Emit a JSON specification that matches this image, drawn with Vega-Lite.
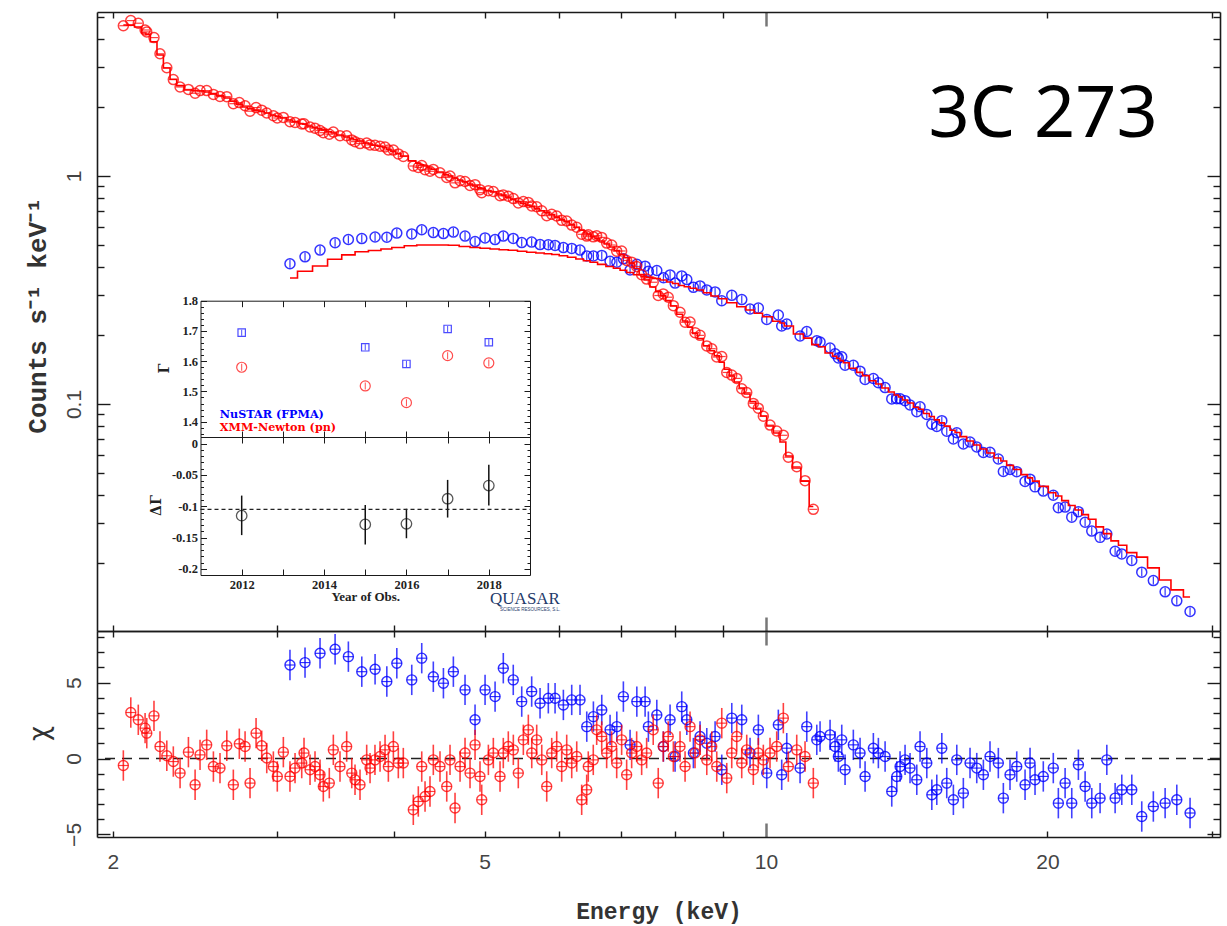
{
"$schema": "https://vega.github.io/schema/vega-lite/v6.json",
"width": 1123, "height": 825,
"autosize": "none",
"padding": {"left": 97, "top": 12, "right": 7, "bottom": 89},
"background": "white",
"config": {
  "view": {"stroke": null},
  "axis": {"grid": false, "domainColor": "#1a1a1a", "domainWidth": 1.6, "tickColor": "#1a1a1a", "tickWidth": 1.4, "labelFont": "Liberation Sans", "labelFontSize": 21, "labelColor": "#444", "titleColor": "#333", "labelOverlap": false, "labelFlush": false, "labelBound": false}
},
"datasets": {
"xmm": [
{"e":2.053,"r":4.562,"m":4.595,"c":-0.46},{"e":2.091,"r":4.804,"m":4.590,"c":3.03},{"e":2.130,"r":4.679,"m":4.503,"c":2.55},{"e":2.166,"r":4.369,"m":4.239,"c":2.0},{"e":2.175,"r":4.286,"m":4.179,"c":1.67},{"e":2.214,"r":4.046,"m":3.878,"c":2.81},{"e":2.247,"r":3.436,"m":3.394,"c":0.79},{"e":2.285,"r":2.985,"m":2.976,"c":0.18},{"e":2.322,"r":2.647,"m":2.655,"c":-0.2},{"e":2.361,"r":2.457,"m":2.492,"c":-0.96},
{"e":2.410,"r":2.398,"m":2.384,"c":0.42},{"e":2.450,"r":2.307,"m":2.369,"c":-1.73},{"e":2.480,"r":2.369,"m":2.359,"c":0.24},{"e":2.521,"r":2.369,"m":2.335,"c":0.9},{"e":2.563,"r":2.279,"m":2.298,"c":-0.53},{"e":2.605,"r":2.231,"m":2.252,"c":-0.63},{"e":2.649,"r":2.229,"m":2.200,"c":0.84},{"e":2.692,"r":2.076,"m":2.131,"c":-1.73},{"e":2.732,"r":2.099,"m":2.067,"c":0.97},{"e":2.771,"r":2.032,"m":2.007,"c":0.79},
{"e":2.805,"r":1.924,"m":1.971,"c":-1.62},{"e":2.847,"r":1.995,"m":1.946,"c":1.67},{"e":2.887,"r":1.944,"m":1.918,"c":0.84},{"e":2.923,"r":1.889,"m":1.889,"c":0.03},{"e":2.971,"r":1.837,"m":1.851,"c":-0.53},{"e":3.000,"r":1.797,"m":1.829,"c":-1.18},{"e":3.045,"r":1.807,"m":1.797,"c":0.42},{"e":3.095,"r":1.729,"m":1.761,"c":-1.18},{"e":3.134,"r":1.718,"m":1.734,"c":-0.63},{"e":3.186,"r":1.691,"m":1.699,"c":-0.3},
{"e":3.204,"r":1.696,"m":1.687,"c":0.36},{"e":3.252,"r":1.640,"m":1.658,"c":-0.74},{"e":3.292,"r":1.621,"m":1.633,"c":-0.53},{"e":3.333,"r":1.583,"m":1.609,"c":-1.07},{"e":3.360,"r":1.549,"m":1.593,"c":-1.84},{"e":3.410,"r":1.525,"m":1.563,"c":-1.62},{"e":3.444,"r":1.558,"m":1.544,"c":0.57},{"e":3.501,"r":1.501,"m":1.513,"c":-0.53},{"e":3.559,"r":1.501,"m":1.483,"c":0.79},{"e":3.604,"r":1.440,"m":1.460,"c":-0.96},
{"e":3.633,"r":1.415,"m":1.446,"c":-1.4},{"e":3.678,"r":1.387,"m":1.424,"c":-1.73},{"e":3.739,"r":1.394,"m":1.395,"c":-0.09},{"e":3.770,"r":1.369,"m":1.381,"c":-0.63},{"e":3.816,"r":1.363,"m":1.365,"c":-0.09},{"e":3.864,"r":1.352,"m":1.350,"c":0.13},{"e":3.912,"r":1.341,"m":1.330,"c":0.57},{"e":3.944,"r":1.300,"m":1.311,"c":-0.53},{"e":3.993,"r":1.299,"m":1.283,"c":0.79},{"e":4.042,"r":1.250,"m":1.256,"c":-0.3},
{"e":4.092,"r":1.218,"m":1.224,"c":-0.3},{"e":4.194,"r":1.106,"m":1.165,"c":-3.38},{"e":4.246,"r":1.091,"m":1.138,"c":-2.83},{"e":4.282,"r":1.112,"m":1.121,"c":-0.53},{"e":4.317,"r":1.065,"m":1.106,"c":-2.5},{"e":4.370,"r":1.049,"m":1.084,"c":-2.17},{"e":4.406,"r":1.069,"m":1.070,"c":-0.09},{"e":4.479,"r":1.033,"m":1.041,"c":-0.53},{"e":4.554,"r":0.985,"m":1.013,"c":-1.84},{"e":4.591,"r":0.999,"m":1.000,"c":-0.09},
{"e":4.648,"r":0.933,"m":0.980,"c":-3.26},{"e":4.706,"r":0.953,"m":0.960,"c":-0.53},{"e":4.764,"r":0.946,"m":0.941,"c":0.36},{"e":4.823,"r":0.909,"m":0.922,"c":-0.96},{"e":4.883,"r":0.916,"m":0.904,"c":0.9},{"e":4.943,"r":0.871,"m":0.887,"c":-1.18},{"e":4.964,"r":0.845,"m":0.881,"c":-2.72},{"e":5.046,"r":0.862,"m":0.863,"c":-0.09},{"e":5.108,"r":0.855,"m":0.851,"c":0.36},{"e":5.193,"r":0.819,"m":0.834,"c":-1.18},
{"e":5.235,"r":0.826,"m":0.822,"c":0.36},{"e":5.300,"r":0.816,"m":0.806,"c":0.79},{"e":5.366,"r":0.796,"m":0.789,"c":0.57},{"e":5.432,"r":0.762,"m":0.773,"c":-0.96},{"e":5.500,"r":0.772,"m":0.758,"c":1.23},{"e":5.568,"r":0.766,"m":0.745,"c":1.89},{"e":5.615,"r":0.739,"m":0.735,"c":0.36},{"e":5.684,"r":0.733,"m":0.719,"c":1.23},{"e":5.755,"r":0.704,"m":0.704,"c":-0.09},{"e":5.826,"r":0.670,"m":0.690,"c":-1.84},
{"e":5.898,"r":0.679,"m":0.676,"c":0.36},{"e":5.971,"r":0.668,"m":0.660,"c":0.79},{"e":6.045,"r":0.639,"m":0.645,"c":-0.53},{"e":6.120,"r":0.635,"m":0.630,"c":0.57},{"e":6.196,"r":0.609,"m":0.612,"c":-0.3},{"e":6.273,"r":0.596,"m":0.595,"c":0.13},{"e":6.350,"r":0.555,"m":0.578,"c":-2.72},{"e":6.429,"r":0.545,"m":0.562,"c":-2.06},{"e":6.454,"r":0.552,"m":0.557,"c":-0.53},{"e":6.534,"r":0.541,"m":0.542,"c":-0.09},
{"e":6.589,"r":0.547,"m":0.531,"c":1.89},{"e":6.671,"r":0.538,"m":0.519,"c":1.45},{"e":6.753,"r":0.508,"m":0.503,"c":0.36},{"e":6.837,"r":0.498,"m":0.488,"c":0.79},{"e":6.922,"r":0.468,"m":0.471,"c":-0.3},{"e":7.007,"r":0.469,"m":0.454,"c":1.23},{"e":7.094,"r":0.426,"m":0.438,"c":-1.07},{"e":7.182,"r":0.419,"m":0.415,"c":0.36},{"e":7.271,"r":0.401,"m":0.393,"c":0.79},{"e":7.361,"r":0.369,"m":0.370,"c":-0.09},
{"e":7.452,"r":0.353,"m":0.350,"c":0.36},{"e":7.574,"r":0.342,"m":0.326,"c":1.89},{"e":7.668,"r":0.299,"m":0.311,"c":-1.62},{"e":7.763,"r":0.304,"m":0.298,"c":0.79},{"e":7.859,"r":0.294,"m":0.284,"c":1.45},{"e":7.959,"r":0.270,"m":0.269,"c":0.13},{"e":8.091,"r":0.2525,"m":0.2474,"c":0.79},{"e":8.192,"r":0.2282,"m":0.2312,"c":-0.53},{"e":8.293,"r":0.2290,"m":0.2170,"c":2.1},{"e":8.396,"r":0.2056,"m":0.2038,"c":0.36},
{"e":8.500,"r":0.2000,"m":0.1938,"c":1.23},{"e":8.642,"r":0.1798,"m":0.1802,"c":-0.09},{"e":8.749,"r":0.1748,"m":0.1713,"c":0.79},{"e":8.857,"r":0.1607,"m":0.1628,"c":-0.53},{"e":8.967,"r":0.1615,"m":0.1524,"c":2.33},{"e":9.078,"r":0.1375,"m":0.1420,"c":-1.29},{"e":9.190,"r":0.1339,"m":0.1327,"c":0.36},{"e":9.304,"r":0.1295,"m":0.1249,"c":1.45},{"e":9.419,"r":0.1166,"m":0.1175,"c":-0.3},{"e":9.536,"r":0.1122,"m":0.1106,"c":0.57},
{"e":9.692,"r":0.1006,"m":0.1024,"c":-0.74},{"e":9.812,"r":0.0959,"m":0.0951,"c":0.36},{"e":9.934,"r":0.0884,"m":0.0886,"c":-0.09},{"e":10.099,"r":0.0808,"m":0.0801,"c":0.36},{"e":10.267,"r":0.0761,"m":0.0746,"c":0.79},{"e":10.436,"r":0.0729,"m":0.0681,"c":2.66},{"e":10.565,"r":0.0584,"m":0.0591,"c":-0.53},{"e":10.786,"r":0.0531,"m":0.0524,"c":0.57},{"e":11.009,"r":0.0461,"m":0.0459,"c":0.13},{"e":11.236,"r":0.0345,"m":0.0355,"c":-1.62}
],
"nus": [
{"e":3.095,"r":0.4120,"m":0.3569,"c":6.16},{"e":3.212,"r":0.4420,"m":0.3819,"c":6.32},{"e":3.333,"r":0.4732,"m":0.4030,"c":6.93},{"e":3.459,"r":0.5099,"m":0.4313,"c":7.2},{"e":3.574,"r":0.5266,"m":0.4508,"c":6.71},{"e":3.694,"r":0.5314,"m":0.4651,"c":5.72},{"e":3.817,"r":0.5401,"m":0.4713,"c":5.88},{"e":3.929,"r":0.5384,"m":0.4785,"c":5.07},{"e":4.027,"r":0.5618,"m":0.4858,"c":6.28},{"e":4.178,"r":0.5573,"m":0.4942,"c":5.18},
{"e":4.282,"r":0.5808,"m":0.4981,"c":6.61},{"e":4.406,"r":0.5646,"m":0.4981,"c":5.39},{"e":4.517,"r":0.5590,"m":0.4981,"c":4.96},{"e":4.629,"r":0.5675,"m":0.4966,"c":5.72},{"e":4.764,"r":0.5450,"m":0.4907,"c":4.52},{"e":4.883,"r":0.5156,"m":0.4858,"c":2.55},{"e":5.005,"r":0.5353,"m":0.4819,"c":4.52},{"e":5.130,"r":0.5260,"m":0.4785,"c":4.08},{"e":5.235,"r":0.5450,"m":0.4747,"c":5.95},{"e":5.365,"r":0.5324,"m":0.4722,"c":5.18},
{"e":5.478,"r":0.5104,"m":0.4680,"c":3.75},{"e":5.614,"r":0.5129,"m":0.4633,"c":4.41},{"e":5.731,"r":0.5001,"m":0.4595,"c":3.64},{"e":5.849,"r":0.4993,"m":0.4558,"c":3.97},{"e":5.947,"r":0.4961,"m":0.4526,"c":3.97},{"e":6.070,"r":0.4853,"m":0.4472,"c":3.53},{"e":6.196,"r":0.4814,"m":0.4400,"c":3.86},{"e":6.324,"r":0.4732,"m":0.4325,"c":3.86},{"e":6.430,"r":0.4463,"m":0.4251,"c":2.1},{"e":6.536,"r":0.4459,"m":0.4183,"c":2.76},
{"e":6.672,"r":0.4485,"m":0.4095,"c":3.2},{"e":6.810,"r":0.4229,"m":0.4010,"c":1.89},{"e":6.924,"r":0.4183,"m":0.3941,"c":2.1},{"e":7.037,"r":0.4333,"m":0.3862,"c":4.08},{"e":7.154,"r":0.3870,"m":0.3774,"c":0.9},{"e":7.274,"r":0.4099,"m":0.3687,"c":3.75},{"e":7.424,"r":0.4022,"m":0.3617,"c":3.75},{"e":7.484,"r":0.3819,"m":0.3599,"c":2.1},{"e":7.641,"r":0.3850,"m":0.3552,"c":2.87},{"e":7.767,"r":0.3577,"m":0.3499,"c":0.79},
{"e":7.895,"r":0.3683,"m":0.3429,"c":2.55},{"e":7.993,"r":0.3391,"m":0.3377,"c":0.13},{"e":8.125,"r":0.3646,"m":0.3309,"c":3.42},{"e":8.227,"r":0.3512,"m":0.3269,"c":2.55},{"e":8.362,"r":0.3249,"m":0.3217,"c":0.36},{"e":8.500,"r":0.3296,"m":0.3162,"c":1.45},{"e":8.642,"r":0.3165,"m":0.3077,"c":1.01},{"e":8.821,"r":0.3102,"m":0.2976,"c":1.45},{"e":8.967,"r":0.2836,"m":0.2896,"c":-0.74},{"e":9.191,"r":0.2997,"m":0.2781,"c":2.66},
{"e":9.420,"r":0.2871,"m":0.2672,"c":2.55},{"e":9.614,"r":0.2610,"m":0.2584,"c":0.36},{"e":9.813,"r":0.2636,"m":0.2499,"c":1.89},{"e":10.018,"r":0.2350,"m":0.2415,"c":-0.96},{"e":10.308,"r":0.2457,"m":0.2307,"c":2.22},{"e":10.394,"r":0.2198,"m":0.2265,"c":-1.07},{"e":10.524,"r":0.2241,"m":0.2198,"c":0.68},{"e":10.875,"r":0.1987,"m":0.2028,"c":-0.63},{"e":11.056,"r":0.2080,"m":0.1944,"c":2.1},{"e":11.332,"r":0.1895,"m":0.1822,"c":1.23},
{"e":11.424,"r":0.1869,"m":0.1784,"c":1.45},{"e":11.709,"r":0.1760,"m":0.1674,"c":1.56},{"e":11.855,"r":0.1661,"m":0.1619,"c":0.79},{"e":11.951,"r":0.1591,"m":0.1585,"c":0.13},{"e":12.051,"r":0.1612,"m":0.1550,"c":1.23},{"e":12.150,"r":0.1480,"m":0.1516,"c":-0.74},{"e":12.400,"r":0.1478,"m":0.1435,"c":0.9},{"e":12.607,"r":0.1393,"m":0.1376,"c":0.36},{"e":12.764,"r":0.1282,"m":0.1332,"c":-1.18},{"e":13.027,"r":0.1293,"m":0.1264,"c":0.68},
{"e":13.189,"r":0.1239,"m":0.1224,"c":0.36},{"e":13.409,"r":0.1180,"m":0.1175,"c":0.13},{"e":13.631,"r":0.1053,"m":0.1129,"c":-2.17},{"e":13.801,"r":0.1054,"m":0.1095,"c":-1.18},{"e":13.913,"r":0.1055,"m":0.1073,"c":-0.53},{"e":14.085,"r":0.1034,"m":0.1041,"c":-0.09},{"e":14.259,"r":0.0990,"m":0.1010,"c":-0.63},{"e":14.498,"r":0.0925,"m":0.0968,"c":-1.4},{"e":14.615,"r":0.0972,"m":0.0948,"c":0.79},{"e":14.860,"r":0.0899,"m":0.0908,"c":-0.3},
{"e":15.045,"r":0.0815,"m":0.0881,"c":-2.39},{"e":15.230,"r":0.0797,"m":0.0852,"c":-2.06},{"e":15.420,"r":0.0845,"m":0.0826,"c":0.68},{"e":15.609,"r":0.0759,"m":0.0800,"c":-1.62},{"e":15.866,"r":0.0702,"m":0.0767,"c":-2.72},{"e":15.999,"r":0.0748,"m":0.0750,"c":-0.09},{"e":16.260,"r":0.0668,"m":0.0719,"c":-2.28},{"e":16.530,"r":0.0681,"m":0.0688,"c":-0.3},{"e":16.806,"r":0.0648,"m":0.0661,"c":-0.63},{"e":17.083,"r":0.0613,"m":0.0635,"c":-1.07},
{"e":17.364,"r":0.0614,"m":0.0610,"c":0.13},{"e":17.724,"r":0.0574,"m":0.0580,"c":-0.3},{"e":17.944,"r":0.0506,"m":0.0562,"c":-2.61},{"e":18.241,"r":0.0516,"m":0.0538,"c":-1.07},{"e":18.546,"r":0.0505,"m":0.0516,"c":-0.53},{"e":18.930,"r":0.0457,"m":0.0490,"c":-1.73},{"e":19.164,"r":0.0468,"m":0.0474,"c":-0.3},{"e":19.401,"r":0.0433,"m":0.0459,"c":-1.4},{"e":19.800,"r":0.0415,"m":0.0435,"c":-1.18},{"e":20.294,"r":0.0398,"m":0.0408,"c":-0.63},
{"e":20.548,"r":0.0351,"m":0.0395,"c":-2.94},{"e":20.893,"r":0.0353,"m":0.0377,"c":-1.62},{"e":21.238,"r":0.0319,"m":0.0359,"c":-2.94},{"e":21.588,"r":0.0337,"m":0.0343,"c":-0.41},{"e":21.948,"r":0.0303,"m":0.0327,"c":-1.84},{"e":22.311,"r":0.0277,"m":0.0312,"c":-2.94},{"e":22.773,"r":0.0260,"m":0.0289,"c":-2.61},{"e":23.154,"r":0.0269,"m":0.0270,"c":-0.09},{"e":23.633,"r":0.0226,"m":0.0251,"c":-2.61},{"e":24.023,"r":0.0220,"m":0.0240,"c":-2.06},
{"e":24.623,"r":0.0206,"m":0.0223,"c":-2.06},{"e":25.235,"r":0.0183,"m":0.0213,"c":-3.82},{"e":25.966,"r":0.0168,"m":0.0191,"c":-3.16},{"e":26.731,"r":0.0150,"m":0.0169,"c":-2.94},{"e":27.510,"r":0.0137,"m":0.0153,"c":-2.72},{"e":28.424,"r":0.0123,"m":0.01424,"c":-3.59}
],
"gam": [
{"yr":2012,"gn":1.6944,"gx":1.580,"d":-0.115,"lo":-0.146,"hi":-0.083},
{"yr":2015,"gn":1.646,"gx":1.5182,"d":-0.129,"lo":-0.161,"hi":-0.098},
{"yr":2016,"gn":1.5909,"gx":1.463,"d":-0.128,"lo":-0.151,"hi":-0.104},
{"yr":2017,"gn":1.7066,"gx":1.6183,"d":-0.088,"lo":-0.118,"hi":-0.058},
{"yr":2018,"gn":1.6626,"gx":1.5942,"d":-0.067,"lo":-0.099,"hi":-0.034}
]
},
"layer": [
{"data": {"name": "nus"},
 "mark": {"type": "point", "shape": "circle", "filled": false, "stroke": "#0000ff", "strokeWidth": 1.5, "size": 100, "opacity": 0.8},
 "encoding": {
  "x": {"field": "e", "type": "quantitative", "scale": {"type": "log", "domain": [1.924, 30.6], "range": [0, 1123], "nice": false}, "axis": {"orient": "bottom", "offset": -206, "values": [10], "labels": false, "tickSize": -14, "tickColor": "#777", "tickWidth": 2.5, "domain": false, "title": null}},
  "y": {"field": "r", "type": "quantitative", "scale": {"type": "log", "domain": [0.0101, 5.24], "range": [619, 0], "nice": false}, "axis": {"orient": "left", "values": [0.02,0.03,0.04,0.05,0.06,0.07,0.08,0.09,0.2,0.3,0.4,0.5,0.6,0.7,0.8,0.9,2,3,4,5], "labels": false, "tickSize": -7, "domain": false, "title": null}}
 }},
{"data": {"name": "nus"},
 "mark": {"type": "tick", "orient": "vertical", "size": 8, "thickness": 1.2, "color": "#0000ff", "opacity": 0.8},
 "encoding": {
  "x": {"field": "e", "type": "quantitative", "scale": {"type": "log", "domain": [1.924, 30.6], "range": [0, 1123], "nice": false}, "axis": null},
  "y": {"field": "r", "type": "quantitative", "scale": {"type": "log", "domain": [0.0101, 5.24], "range": [619, 0], "nice": false}, "axis": null}
 }},
{"data": {"name": "nus"},
 "mark": {"type": "line", "interpolate": "step", "color": "#ff0000", "strokeWidth": 1.6},
 "encoding": {
  "x": {"field": "e", "type": "quantitative", "scale": {"type": "log", "domain": [1.924, 30.6], "range": [0, 1123], "nice": false}, "axis": {"orient": "bottom", "offset": -206, "values": [2,3,4,5,6,7,8,9,20,30], "labels": false, "tickSize": -6, "domain": true, "title": null}},
  "y": {"field": "m", "type": "quantitative", "scale": {"type": "log", "domain": [0.0101, 5.24], "range": [619, 0], "nice": false}, "axis": {"orient": "right", "values": [0.1, 1], "labels": false, "tickSize": -13, "domain": true, "title": null}}
 }},
{"data": {"name": "xmm"},
 "mark": {"type": "line", "interpolate": "step", "color": "#ff0000", "strokeWidth": 1.6},
 "encoding": {
  "x": {"field": "e", "type": "quantitative", "scale": {"type": "log", "domain": [1.924, 30.6], "range": [0, 1123], "nice": false}, "axis": {"orient": "top", "values": [2,3,4,5,6,7,8,9,20,30], "labels": false, "tickSize": -6, "domain": false, "title": null}},
  "y": {"field": "m", "type": "quantitative", "scale": {"type": "log", "domain": [0.0101, 5.24], "range": [619, 0], "nice": false}, "axis": {"orient": "left", "values": [0.1, 1], "labels": false, "tickSize": -13, "domain": false, "title": null}}
 }},
{"data": {"name": "xmm"},
 "mark": {"type": "point", "shape": "circle", "filled": false, "stroke": "#ff0000", "strokeWidth": 1.5, "size": 100, "opacity": 0.75},
 "encoding": {
  "x": {"field": "e", "type": "quantitative", "scale": {"type": "log", "domain": [1.924, 30.6], "range": [0, 1123], "nice": false}, "axis": {"orient": "top", "values": [10], "labels": false, "tickSize": -14, "tickColor": "#777", "tickWidth": 2.5, "domain": true, "title": null}},
  "y": {"field": "r", "type": "quantitative", "scale": {"type": "log", "domain": [0.0101, 5.24], "range": [619, 0], "nice": false}, "axis": {"orient": "left", "values": [0.1, 1], "ticks": false, "domain": true, "labelAngle": -90, "labelAlign": "center", "labelBaseline": "alphabetic", "labelPadding": 17, "labelExpr": "datum.value >= 1 ? '1' : '0.1'", "title": "Counts s⁻¹ keV⁻¹", "titleFont": "Liberation Mono", "titleFontWeight": "bold", "titleFontSize": 26, "titleAngle": -90, "titleAlign": "center", "titleBaseline": "middle", "titleX": -60, "titleY": 303}}
 }},
{"data": {"name": "xmm"},
 "mark": {"type": "tick", "orient": "horizontal", "size": 8, "thickness": 1.2, "color": "#ff0000", "opacity": 0.75},
 "encoding": {
  "x": {"field": "e", "type": "quantitative", "scale": {"type": "log", "domain": [1.924, 30.6], "range": [0, 1123], "nice": false}, "axis": null},
  "y": {"field": "r", "type": "quantitative", "scale": {"type": "log", "domain": [0.0101, 5.24], "range": [619, 0], "nice": false}, "axis": {"orient": "right", "values": [0.02,0.03,0.04,0.05,0.06,0.07,0.08,0.09,0.2,0.3,0.4,0.5,0.6,0.7,0.8,0.9,2,3,4,5], "labels": false, "tickSize": -7, "domain": false, "title": null}}
 }},
{"data": {"values": [{}]},
 "mark": {"type": "text", "text": "3C 273", "font": "Noto Sans", "fontSize": 72, "align": "center", "baseline": "alphabetic", "color": "#000"},
 "encoding": {
  "x": {"datum": 19.79, "type": "quantitative", "scale": {"type": "log", "domain": [1.924, 30.6], "range": [0, 1123], "nice": false}, "axis": null},
  "y": {"datum": 1.483, "type": "quantitative", "scale": {"type": "log", "domain": [0.0101, 5.24], "range": [619, 0], "nice": false}, "axis": null}
 }},

{"data": {"values": [{}]},
 "mark": {"type": "rule", "strokeDash": [10, 7], "color": "#222", "strokeWidth": 1.5},
 "encoding": {
  "y": {"datum": 0, "type": "quantitative", "scale": {"domain": [-5.17, 8.4], "range": [825, 619], "nice": false, "zero": false}, "axis": null}
 }},
{"data": {"name": "nus"},
 "mark": {"type": "tick", "orient": "vertical", "size": 30.4, "thickness": 1.6, "color": "#0000ff", "opacity": 0.75},
 "encoding": {
  "x": {"field": "e", "type": "quantitative", "scale": {"type": "log", "domain": [1.924, 30.6], "range": [0, 1123], "nice": false}, "axis": {"orient": "top", "offset": -619, "values": [10], "labels": false, "tickSize": -14, "tickColor": "#777", "tickWidth": 2.5, "domain": true, "title": null}},
  "y": {"field": "c", "type": "quantitative", "scale": {"domain": [-5.17, 8.4], "range": [825, 619], "nice": false, "zero": false}, "axis": {"orient": "right", "values": [-5, 0, 5], "labels": false, "tickSize": -13, "domain": true, "title": null}}
 }},
{"data": {"name": "nus"},
 "mark": {"type": "tick", "orient": "horizontal", "size": 10, "thickness": 1.2, "color": "#0000ff", "opacity": 0.8},
 "encoding": {
  "x": {"field": "e", "type": "quantitative", "scale": {"type": "log", "domain": [1.924, 30.6], "range": [0, 1123], "nice": false}, "axis": null},
  "y": {"field": "c", "type": "quantitative", "scale": {"domain": [-5.17, 8.4], "range": [825, 619], "nice": false, "zero": false}, "axis": null}
 }},
{"data": {"name": "nus"},
 "mark": {"type": "point", "shape": "circle", "filled": false, "stroke": "#0000ff", "strokeWidth": 1.4, "size": 100, "opacity": 0.8},
 "encoding": {
  "x": {"field": "e", "type": "quantitative", "scale": {"type": "log", "domain": [1.924, 30.6], "range": [0, 1123], "nice": false}, "axis": {"orient": "bottom", "values": [2,3,4,5,6,7,8,9,20,30], "labels": false, "tickSize": -6, "domain": false, "title": null}},
  "y": {"field": "c", "type": "quantitative", "scale": {"domain": [-5.17, 8.4], "range": [825, 619], "nice": false, "zero": false}, "axis": {"orient": "left", "values": [-4,-3,-2,-1,1,2,3,4,6,7,8], "labels": false, "tickSize": -7, "domain": false, "title": null}}
 }},
{"data": {"name": "xmm"},
 "mark": {"type": "tick", "orient": "vertical", "size": 30.4, "thickness": 1.6, "color": "#ff0000", "opacity": 0.75},
 "encoding": {
  "x": {"field": "e", "type": "quantitative", "scale": {"type": "log", "domain": [1.924, 30.6], "range": [0, 1123], "nice": false}, "axis": {"orient": "bottom", "values": [10], "labels": false, "tickSize": -14, "tickColor": "#777", "tickWidth": 2.5, "domain": false, "title": null}},
  "y": {"field": "c", "type": "quantitative", "scale": {"domain": [-5.17, 8.4], "range": [825, 619], "nice": false, "zero": false}, "axis": {"orient": "left", "values": [-5, 0, 5], "labels": false, "tickSize": -13, "domain": false, "title": null}}
 }},
{"data": {"name": "xmm"},
 "mark": {"type": "tick", "orient": "horizontal", "size": 10, "thickness": 1.2, "color": "#ff0000", "opacity": 0.75},
 "encoding": {
  "x": {"field": "e", "type": "quantitative", "scale": {"type": "log", "domain": [1.924, 30.6], "range": [0, 1123], "nice": false}, "axis": {"orient": "top", "offset": -619, "values": [2,3,4,5,6,7,8,9,20,30], "labels": false, "tickSize": -6, "domain": false, "title": null}},
  "y": {"field": "c", "type": "quantitative", "scale": {"domain": [-5.17, 8.4], "range": [825, 619], "nice": false, "zero": false}, "axis": {"orient": "right", "values": [-4,-3,-2,-1,1,2,3,4,6,7,8], "labels": false, "tickSize": -7, "domain": false, "title": null}}
 }},
{"data": {"name": "xmm"},
 "mark": {"type": "point", "shape": "circle", "filled": false, "stroke": "#ff0000", "strokeWidth": 1.4, "size": 100, "opacity": 0.75},
 "encoding": {
  "x": {"field": "e", "type": "quantitative", "scale": {"type": "log", "domain": [1.924, 30.6], "range": [0, 1123], "nice": false}, "axis": {"orient": "bottom", "values": [2, 5, 10, 20], "ticks": false, "domain": true, "labelPadding": 14, "labelExpr": "datum.label", "title": "Energy (keV)", "titleFont": "Liberation Mono", "titleFontWeight": "bold", "titleFontSize": 23, "titleY": 81, "titleBaseline": "alphabetic"}},
  "y": {"field": "c", "type": "quantitative", "scale": {"domain": [-5.17, 8.4], "range": [825, 619], "nice": false, "zero": false}, "axis": {"orient": "left", "values": [-5, 0, 5], "ticks": false, "domain": true, "labelAngle": -90, "labelAlign": "center", "labelBaseline": "alphabetic", "labelPadding": 17, "labelExpr": "datum.value < 0 ? '−' + abs(datum.value) : '' + datum.value", "title": "χ", "titleFont": "DejaVu Sans", "titleFontWeight": "normal", "titleFontSize": 26, "titleAngle": -90, "titleAlign": "center", "titleBaseline": "middle", "titleX": -58, "titleY": 721}}
 }},

{"data": {"name": "gam"},
 "mark": {"type": "point", "shape": "square", "filled": false, "stroke": "#0000ff", "strokeWidth": 1.2, "size": 55},
 "encoding": {
  "x": {"field": "yr", "type": "quantitative", "scale": {"domain": [2011, 2019], "range": [103.5, 433], "nice": false, "zero": false}, "axis": {"orient": "top", "offset": -288.7, "values": [2012,2013,2014,2015,2016,2017,2018], "labels": false, "tickSize": -6, "tickWidth": 1, "domain": true, "domainWidth": 1, "title": null}},
  "y": {"field": "gn", "type": "quantitative", "scale": {"domain": [1.3494, 1.8], "range": [425, 288.7], "nice": false, "zero": false}, "axis": {"orient": "left", "offset": -103.5, "values": [1.4, 1.5, 1.6, 1.7, 1.8], "ticks": false, "domain": true, "domainWidth": 1, "labelPadding": 3, "labelAlign": "right", "labelBaseline": "middle", "labelFont": "Liberation Serif", "labelFontWeight": "bold", "labelFontSize": 12.5, "labelColor": "#222", "labelExpr": "format(datum.value, '.1f')", "title": "Γ", "titleFont": "DejaVu Serif", "titleFontWeight": "bold", "titleFontSize": 14, "titleColor": "#222", "titleAngle": -90, "titleAlign": "center", "titleBaseline": "middle", "titleX": -36, "titleY": 356}}
 }},
{"data": {"name": "gam"},
 "mark": {"type": "tick", "orient": "vertical", "size": 6, "thickness": 1, "color": "#0000ff"},
 "encoding": {
  "x": {"field": "yr", "type": "quantitative", "scale": {"domain": [2011, 2019], "range": [103.5, 433], "nice": false, "zero": false}, "axis": null},
  "y": {"field": "gn", "type": "quantitative", "scale": {"domain": [1.3494, 1.8], "range": [425, 288.7], "nice": false, "zero": false}, "axis": {"orient": "left", "offset": -103.5, "values": [1.36,1.38,1.42,1.44,1.46,1.48,1.52,1.54,1.56,1.58,1.62,1.64,1.66,1.68,1.72,1.74,1.76,1.78], "labels": false, "tickSize": -3, "tickWidth": 1, "domain": false, "title": null}}
 }},
{"data": {"name": "gam"},
 "mark": {"type": "point", "shape": "circle", "filled": false, "stroke": "#ff0000", "strokeWidth": 1.2, "size": 100},
 "encoding": {
  "x": {"field": "yr", "type": "quantitative", "scale": {"domain": [2011, 2019], "range": [103.5, 433], "nice": false, "zero": false}, "axis": {"orient": "bottom", "offset": -400, "values": [2012,2013,2014,2015,2016,2017,2018], "labels": false, "tickSize": -6, "tickWidth": 1, "domain": true, "domainWidth": 1, "title": null}},
  "y": {"field": "gx", "type": "quantitative", "scale": {"domain": [1.3494, 1.8], "range": [425, 288.7], "nice": false, "zero": false}, "axis": {"orient": "left", "offset": -103.5, "values": [1.4, 1.5, 1.6, 1.7, 1.8], "labels": false, "tickSize": -6, "tickWidth": 1, "domain": false, "title": null}}
 }},
{"data": {"name": "gam"},
 "mark": {"type": "tick", "orient": "vertical", "size": 7, "thickness": 1, "color": "#ff0000"},
 "encoding": {
  "x": {"field": "yr", "type": "quantitative", "scale": {"domain": [2011, 2019], "range": [103.5, 433], "nice": false, "zero": false}, "axis": null},
  "y": {"field": "gx", "type": "quantitative", "scale": {"domain": [1.3494, 1.8], "range": [425, 288.7], "nice": false, "zero": false}, "axis": {"orient": "right", "offset": -690, "values": [1.4, 1.5, 1.6, 1.7, 1.8], "labels": false, "tickSize": -6, "tickWidth": 1, "domain": true, "domainWidth": 1, "title": null}}
 }},
{"data": {"values": [{}]},
 "mark": {"type": "text", "text": "NuSTAR (FPMA)", "font": "DejaVu Serif", "fontWeight": "bold", "fontSize": 11.2, "align": "left", "baseline": "alphabetic", "color": "#0000ff"},
 "encoding": {
  "x": {"datum": 2011.47, "type": "quantitative", "scale": {"domain": [2011, 2019], "range": [103.5, 433], "nice": false, "zero": false}, "axis": null},
  "y": {"datum": 1.4122, "type": "quantitative", "scale": {"domain": [1.3494, 1.8], "range": [425, 288.7], "nice": false, "zero": false}, "axis": {"orient": "right", "offset": -690, "values": [1.36,1.38,1.42,1.44,1.46,1.48,1.52,1.54,1.56,1.58,1.62,1.64,1.66,1.68,1.72,1.74,1.76,1.78], "labels": false, "tickSize": -3, "tickWidth": 1, "domain": false, "title": null}}
 }},
{"data": {"values": [{}]},
 "mark": {"type": "text", "text": "XMM-Newton (pn)", "font": "DejaVu Serif", "fontWeight": "bold", "fontSize": 11.2, "align": "left", "baseline": "alphabetic", "color": "#ff0000"},
 "encoding": {
  "x": {"datum": 2011.47, "type": "quantitative", "scale": {"domain": [2011, 2019], "range": [103.5, 433], "nice": false, "zero": false}, "axis": null},
  "y": {"datum": 1.3676, "type": "quantitative", "scale": {"domain": [1.3494, 1.8], "range": [425, 288.7], "nice": false, "zero": false}, "axis": null}
 }},

{"data": {"name": "gam"},
 "mark": {"type": "rule", "color": "#111", "strokeWidth": 1.5},
 "encoding": {
  "x": {"field": "yr", "type": "quantitative", "scale": {"domain": [2011, 2019], "range": [103.5, 433], "nice": false, "zero": false}, "axis": {"orient": "bottom", "offset": -262, "values": [2012,2013,2014,2015,2016,2017,2018], "labels": false, "tickSize": -6, "tickWidth": 1, "domain": false, "title": null}},
  "y": {"field": "lo", "type": "quantitative", "scale": {"domain": [-0.2096, 0.0104], "range": [563, 425], "nice": false, "zero": false}, "axis": {"orient": "left", "offset": -103.5, "values": [0, -0.05, -0.1, -0.15, -0.2], "labels": false, "tickSize": -6, "tickWidth": 1, "domain": false, "title": null}},
  "y2": {"field": "hi"}
 }},
{"data": {"name": "gam"},
 "mark": {"type": "point", "shape": "circle", "filled": false, "stroke": "#111", "strokeWidth": 1.3, "size": 110},
 "encoding": {
  "x": {"field": "yr", "type": "quantitative", "scale": {"domain": [2011, 2019], "range": [103.5, 433], "nice": false, "zero": false}, "axis": {"orient": "bottom", "offset": -262, "values": [2012, 2014, 2016, 2018], "ticks": false, "domain": true, "domainWidth": 1, "labelPadding": 3, "labelFont": "Liberation Serif", "labelFontWeight": "bold", "labelFontSize": 12.5, "labelColor": "#222", "labelExpr": "format(datum.value, 'd')", "title": "Year of Obs.", "titleFont": "Liberation Serif", "titleFontWeight": "bold", "titleFontSize": 13, "titleColor": "#222", "titleY": 25, "titleBaseline": "alphabetic"}},
  "y": {"field": "d", "type": "quantitative", "scale": {"domain": [-0.2096, 0.0104], "range": [563, 425], "nice": false, "zero": false}, "axis": {"orient": "left", "offset": -103.5, "values": [0, -0.05, -0.1, -0.15, -0.2], "ticks": false, "domain": true, "domainWidth": 1, "labelPadding": 3, "labelAlign": "right", "labelBaseline": "middle", "labelFont": "Liberation Serif", "labelFontWeight": "bold", "labelFontSize": 12.5, "labelColor": "#222", "labelExpr": "datum.value == 0 ? '0' : '-' + format(-datum.value, '~g')", "title": "ΔΓ", "titleFont": "DejaVu Serif", "titleFontWeight": "bold", "titleFontSize": 14, "titleColor": "#222", "titleAngle": -90, "titleAlign": "center", "titleBaseline": "middle", "titleX": -44, "titleY": 493}}
 }},
{"data": {"values": [{}]},
 "mark": {"type": "rule", "strokeDash": [4, 3], "color": "#222", "strokeWidth": 1.2},
 "encoding": {
  "x": {"datum": 2011, "type": "quantitative", "scale": {"domain": [2011, 2019], "range": [103.5, 433], "nice": false, "zero": false}, "axis": {"orient": "top", "offset": -425, "values": [2012,2013,2014,2015,2016,2017,2018], "labels": false, "tickSize": -6, "tickWidth": 1, "domain": true, "domainWidth": 1, "title": null}},
  "x2": {"datum": 2019},
  "y": {"datum": -0.105, "type": "quantitative", "scale": {"domain": [-0.2096, 0.0104], "range": [563, 425], "nice": false, "zero": false}, "axis": {"orient": "left", "offset": -103.5, "values": [0.01,-0.01,-0.02,-0.03,-0.04,-0.06,-0.07,-0.08,-0.09,-0.11,-0.12,-0.13,-0.14,-0.16,-0.17,-0.18,-0.19], "labels": false, "tickSize": -3, "tickWidth": 1, "domain": false, "title": null}}
 }},
{"data": {"values": [{}]},
 "mark": {"type": "text", "text": "QUASAR", "font": "Liberation Serif", "fontSize": 17, "align": "left", "baseline": "alphabetic", "color": "#1f3b6b"},
 "encoding": {
  "x": {"datum": 2018.03, "type": "quantitative", "scale": {"domain": [2011, 2019], "range": [103.5, 433], "nice": false, "zero": false}, "axis": null},
  "y": {"datum": -0.2558, "type": "quantitative", "scale": {"domain": [-0.2096, 0.0104], "range": [563, 425], "nice": false, "zero": false}, "axis": {"orient": "right", "offset": -690, "values": [0, -0.05, -0.1, -0.15, -0.2], "labels": false, "tickSize": -6, "tickWidth": 1, "domain": true, "domainWidth": 1, "title": null}}
 }},
{"data": {"values": [{}]},
 "mark": {"type": "text", "text": "SCIENCE RESOURCES, S.L.", "font": "Liberation Sans", "fontSize": 4.5, "align": "left", "baseline": "alphabetic", "color": "#1f3b6b"},
 "encoding": {
  "x": {"datum": 2018.27, "type": "quantitative", "scale": {"domain": [2011, 2019], "range": [103.5, 433], "nice": false, "zero": false}, "axis": null},
  "y": {"datum": -0.2665, "type": "quantitative", "scale": {"domain": [-0.2096, 0.0104], "range": [563, 425], "nice": false, "zero": false}, "axis": {"orient": "right", "offset": -690, "values": [0.01,-0.01,-0.02,-0.03,-0.04,-0.06,-0.07,-0.08,-0.09,-0.11,-0.12,-0.13,-0.14,-0.16,-0.17,-0.18,-0.19], "labels": false, "tickSize": -3, "tickWidth": 1, "domain": false, "title": null}}
 }}
],
"resolve": {"scale": {"x": "independent", "y": "independent"}}
}
